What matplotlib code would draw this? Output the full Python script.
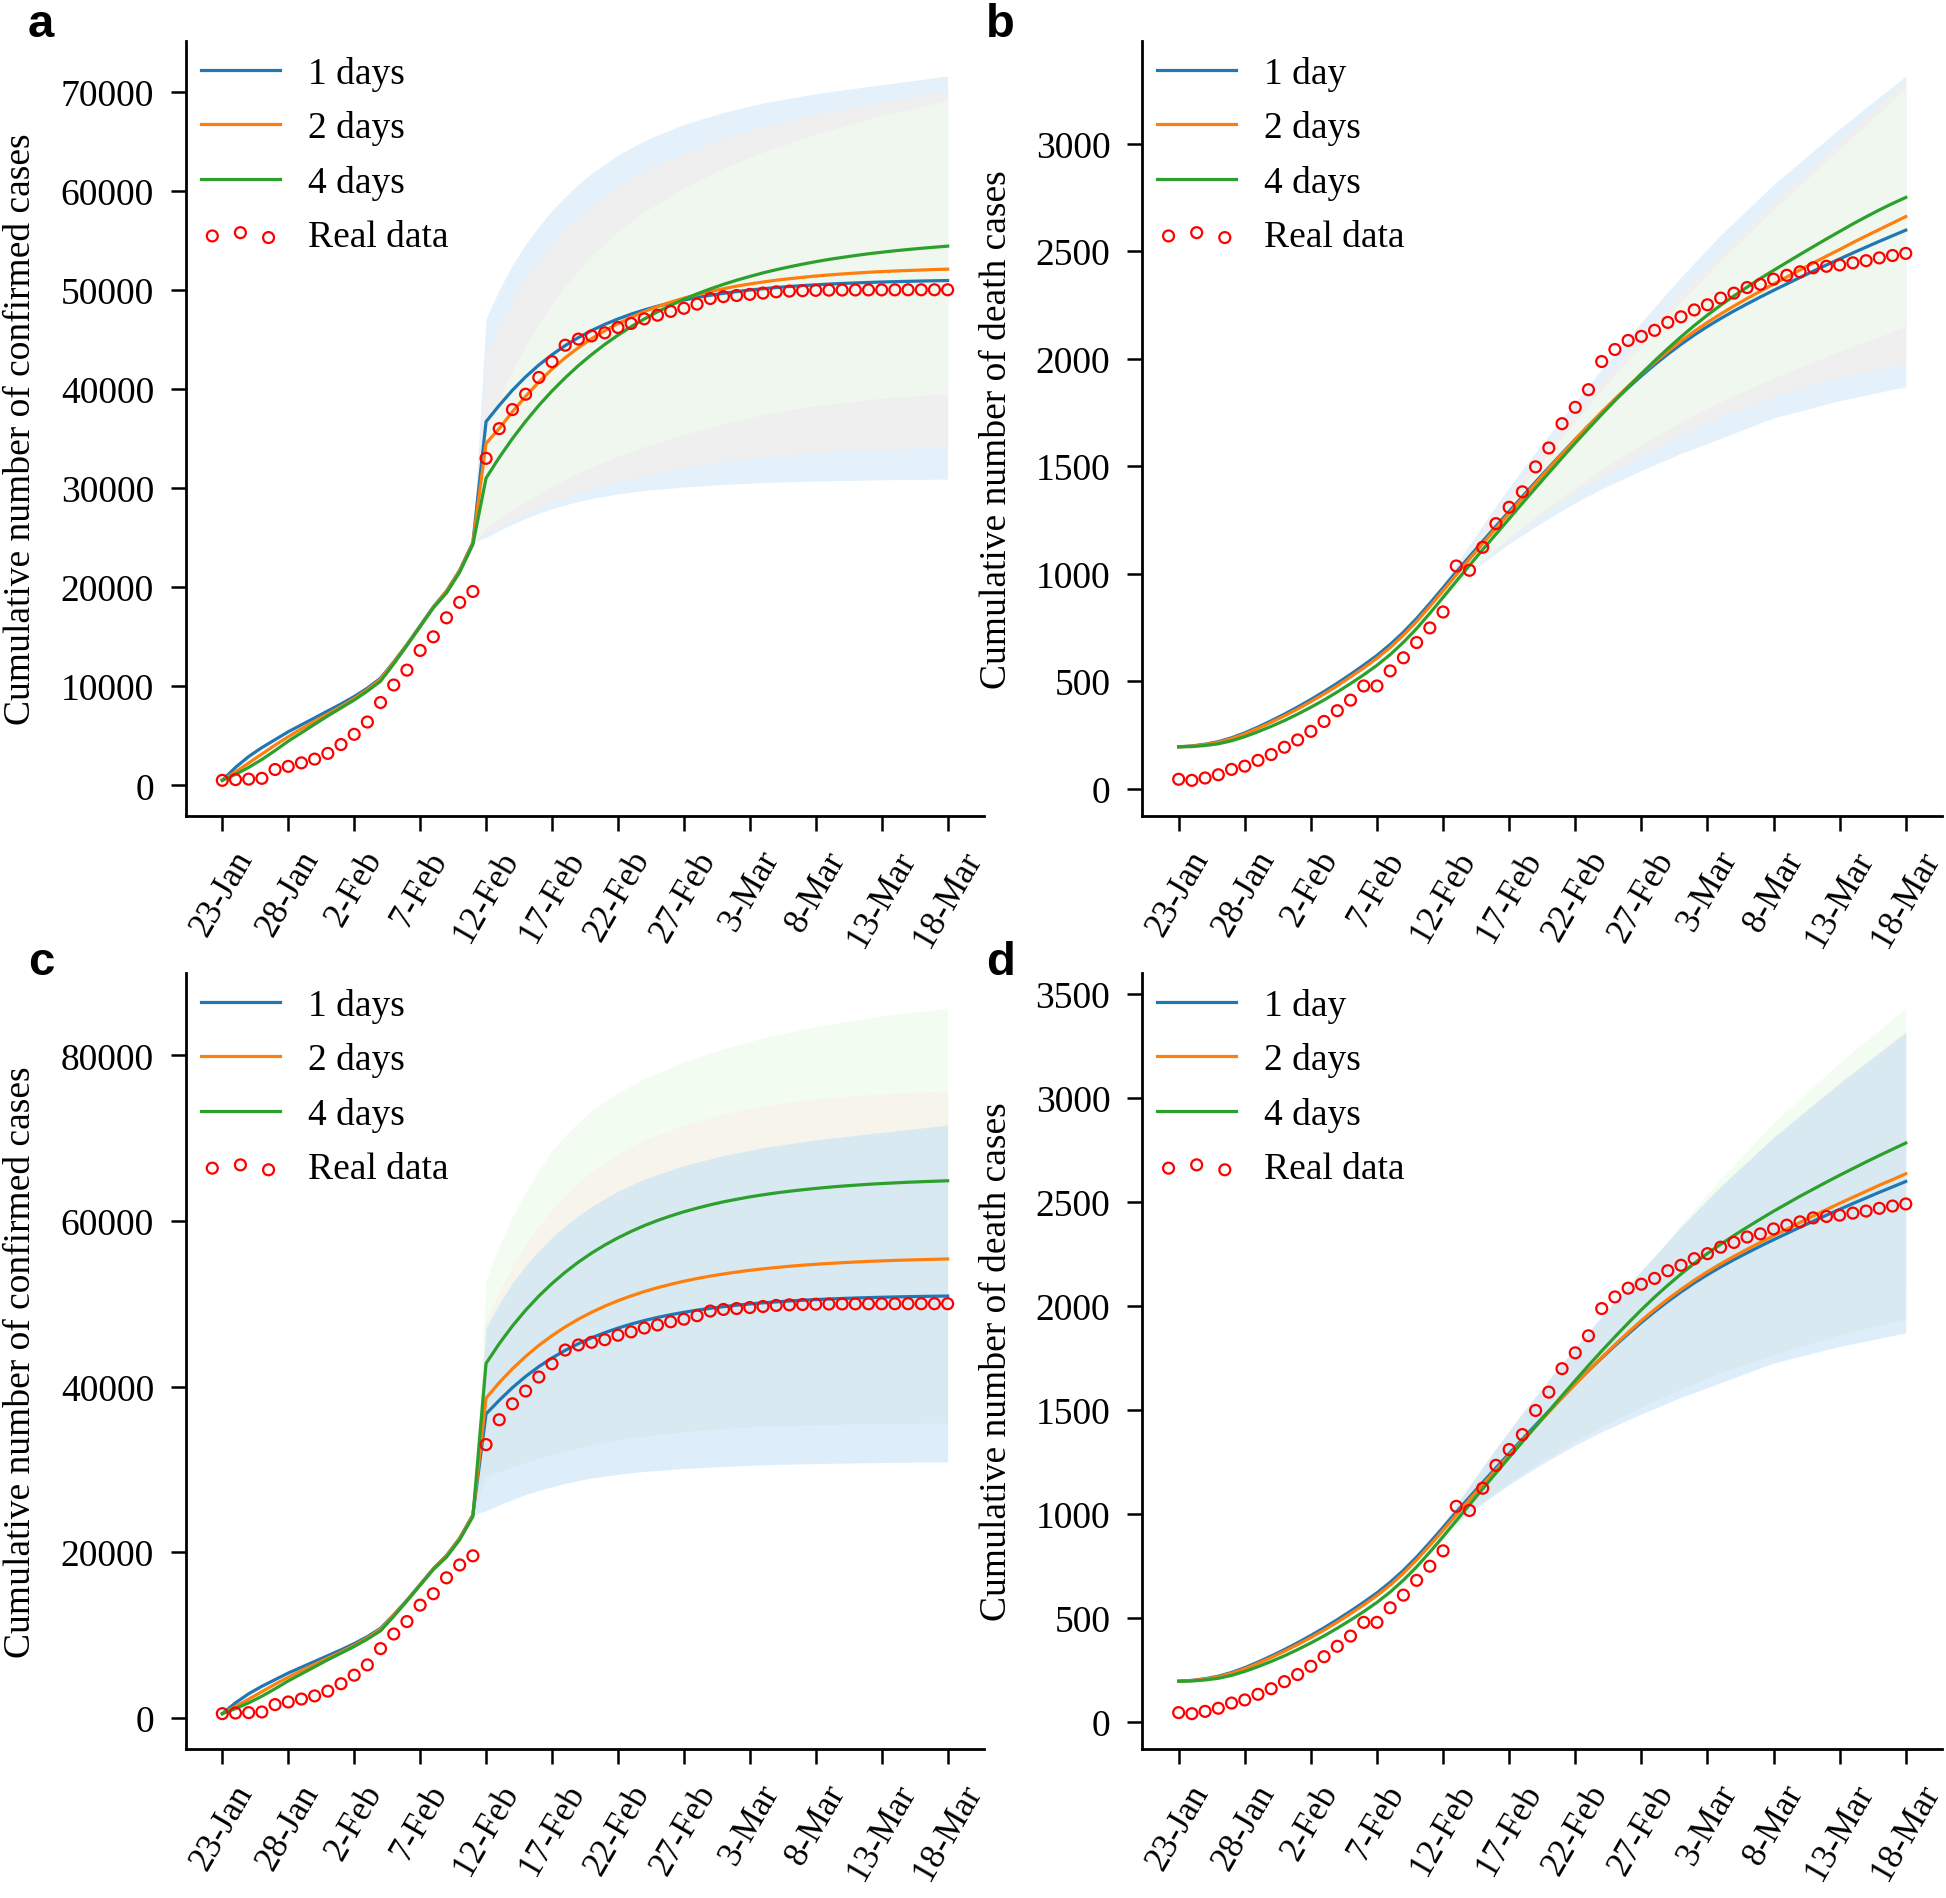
import matplotlib.pyplot as plt
import numpy as np

plt.rcParams['font.family'] = ['Liberation Serif', 'DejaVu Serif']

# x axis: one value per day from 23-Jan to 18-Mar, a tick every 5 days
days = np.arange(56)
tick_days = [0, 5, 10, 15, 20, 25, 30, 35, 40, 45, 50, 55]
tick_labels = ['23-Jan', '28-Jan', '2-Feb', '7-Feb', '12-Feb', '17-Feb',
               '22-Feb', '27-Feb', '3-Mar', '8-Mar', '13-Mar', '18-Mar']
band_days = [19, 20, 21, 22, 23, 24, 25, 26, 27, 28, 30, 32, 35, 38, 41, 45, 50, 55]

# observed data
real_confirmed = [495, 572, 618, 698, 1590, 1905, 2261, 2639, 3215, 4109, 5142, 6384, 8351, 10117,
                  11618, 13603, 14982, 16902, 18454, 19558, 32994, 35991, 37914, 39462, 41152, 42752,
                  44412, 45027, 45346, 45660, 46201, 46607, 47071, 47441, 47824, 48137, 48557, 49122,
                  49315, 49426, 49540, 49671, 49797, 49871, 49912, 49948, 49965, 49978, 49986, 49991,
                  49995, 49999, 50003, 50004, 50005, 50005]
real_deaths = [44, 39, 50, 65, 90, 105, 132, 159, 193, 227, 267, 313, 363, 412, 478, 478, 548, 609,
               680, 748, 822, 1036, 1016, 1123, 1233, 1309, 1381, 1497, 1585, 1698, 1774, 1856, 1987,
               2043, 2085, 2104, 2132, 2169, 2195, 2227, 2251, 2282, 2305, 2331, 2346, 2370, 2388,
               2404, 2423, 2430, 2436, 2446, 2456, 2469, 2480, 2490]

# confirmed cases, model curves
conf_1day = [500, 1800, 2900, 3800, 4600, 5400, 6100, 6800, 7500, 8200, 8950, 9800, 10800, 12450,
             14200, 16100, 18000, 19600, 21700, 24500, 36700, 38340, 39870, 41220, 42410, 43450,
             44370, 45180, 45890, 46510, 47060, 47550, 47970, 48350, 48680, 48970, 49230, 49450,
             49650, 49820, 49980, 50110, 50230, 50335, 50427, 50508, 50579, 50641, 50696, 50745,
             50787, 50825, 50858, 50887, 50912, 50935]
conf_2day_a = [500, 1350, 2250, 3150, 4050, 4900, 5700, 6450, 7200, 7950, 8750, 9650, 10700, 12400,
               14150, 16050, 17950, 19550, 21650, 24450, 34500, 36000, 37700, 39250, 40700, 42000,
               43140, 44160, 45070, 45870, 46590, 47230, 47800, 48310, 48760, 49160, 49510, 49830,
               50110, 50370, 50590, 50790, 50970, 51120, 51260, 51390, 51500, 51600, 51690, 51770,
               51840, 51900, 51950, 52000, 52050, 52085]
conf_4day_a = [500, 1100, 1800, 2600, 3500, 4450, 5300, 6150, 7000, 7800, 8600, 9500, 10500, 12250,
               14100, 16000, 17900, 19400, 21500, 24300, 31000, 33080, 34990, 36730, 38330, 39790,
               41120, 42350, 43460, 44490, 45420, 46280, 47060, 47780, 48440, 49040, 49590, 50090,
               50550, 50970, 51350, 51710, 52030, 52320, 52590, 52840, 53070, 53270, 53460, 53640,
               53790, 53940, 54070, 54190, 54300, 54410]
conf_2day_c = [500, 1350, 2250, 3150, 4050, 4900, 5700, 6450, 7200, 7950, 8750, 9650, 10700, 12400,
               14150, 16050, 17950, 19550, 21650, 24450, 38600, 40480, 42150, 43640, 44970, 46150,
               47200, 48140, 48970, 49710, 50370, 50950, 51480, 51940, 52350, 52720, 53050, 53340,
               53600, 53830, 54040, 54220, 54380, 54530, 54660, 54770, 54870, 54960, 55045, 55120,
               55180, 55240, 55290, 55330, 55370, 55410]
conf_4day_c = [500, 1100, 1800, 2600, 3500, 4450, 5300, 6150, 7000, 7800, 8600, 9500, 10500, 12250,
               14100, 16000, 17900, 19400, 21500, 24300, 42800, 45180, 47320, 49220, 50930, 52450,
               53810, 55030, 56120, 57090, 57960, 58740, 59440, 60060, 60610, 61110, 61550, 61950,
               62310, 62620, 62910, 63160, 63390, 63590, 63770, 63930, 64080, 64210, 64320, 64430,
               64520, 64600, 64680, 64740, 64800, 64855]

# confirmed cases, uncertainty bands (on band_days)
conf_1day_hi = [24500, 47100, 50000, 52500, 54600, 56400, 58000, 59400, 60650, 61750, 63600, 65050,
                66700, 67900, 68850, 69800, 70700, 71580]
conf_1day_lo = [24500, 25000, 25700, 26350, 26950, 27450, 27900, 28300, 28650, 28950, 29400, 29750,
                30100, 30350, 30550, 30700, 30830, 30900]
conf_2day_a_hi = [24450, 43500, 46300, 48900, 51100, 53000, 54700, 56150, 57400, 58500, 60400, 61950,
                  63800, 65300, 66500, 67750, 69000, 70130]
conf_2day_a_lo = [24450, 25400, 26100, 26800, 27450, 28050, 28600, 29100, 29550, 29950, 30700, 31300,
                  32050, 32650, 33150, 33600, 33950, 34150]
conf_4day_a_hi = [24300, 36000, 39100, 41900, 44400, 46600, 48600, 50400, 52000, 53450, 55900, 57900,
                  60300, 62300, 63900, 65700, 67600, 69120]
conf_4day_a_lo = [24300, 26000, 26900, 27800, 28600, 29400, 30150, 30850, 31500, 32100, 33200, 34150,
                  35400, 36500, 37400, 38300, 39050, 39530]
conf_2day_c_hi = [24450, 48100, 51500, 54500, 57100, 59400, 61400, 63100, 64600, 65900, 68100, 69800,
                  71600, 72900, 73900, 74750, 75350, 75700]
conf_2day_c_lo = [24450, 29100, 29700, 30300, 30850, 31350, 31800, 32200, 32600, 32950, 33550, 34000,
                  34550, 34950, 35200, 35400, 35550, 35600]
conf_4day_c_hi = [24300, 52800, 57000, 60500, 63500, 66100, 68500, 70300, 71900, 73300, 75500, 77200,
                  79200, 80800, 82100, 83500, 84750, 85690]
conf_4day_c_lo = [24300, 32800, 34000, 35100, 36100, 37000, 37800, 38550, 39200, 39800, 40800, 41550,
                  42450, 43100, 43550, 43950, 44200, 44400]

# death cases, model curves
death_1day = [195, 199, 207, 219, 237, 260, 287, 316, 347, 380, 415, 452, 491, 532, 575, 620, 671,
              728, 792, 862, 935, 1008, 1080, 1151, 1221, 1290, 1359, 1427, 1494, 1560, 1625, 1688,
              1749, 1808, 1865, 1920, 1972, 2021, 2067, 2110, 2150, 2187, 2222, 2255, 2287, 2318,
              2348, 2378, 2407, 2436, 2464, 2492, 2519, 2546, 2572, 2598]
death_2day_b = [195, 198, 205, 216, 233, 255, 281, 309, 339, 371, 405, 441, 479, 520, 562, 607, 657,
                714, 778, 848, 921, 995, 1068, 1140, 1211, 1281, 1351, 1420, 1489, 1557, 1624, 1689,
                1752, 1813, 1872, 1929, 1983, 2034, 2082, 2127, 2169, 2208, 2245, 2280, 2314, 2347,
                2380, 2413, 2445, 2477, 2508, 2540, 2571, 2601, 2631, 2661]
death_4day_b = [195, 196, 201, 209, 223, 242, 265, 290, 317, 347, 379, 413, 450, 489, 530, 574, 624,
                681, 745, 816, 890, 965, 1039, 1112, 1184, 1256, 1328, 1399, 1469, 1539, 1608, 1675,
                1741, 1805, 1868, 1930, 1990, 2047, 2102, 2154, 2203, 2249, 2292, 2333, 2373, 2411,
                2448, 2485, 2521, 2557, 2592, 2627, 2660, 2692, 2722, 2750]
death_2day_d = [195, 198, 205, 216, 233, 255, 281, 309, 339, 371, 405, 441, 479, 520, 562, 607, 657,
                714, 778, 848, 921, 995, 1068, 1140, 1211, 1281, 1351, 1420, 1489, 1557, 1624, 1689,
                1752, 1813, 1872, 1929, 1982, 2032, 2079, 2123, 2164, 2202, 2238, 2272, 2305, 2337,
                2369, 2401, 2432, 2463, 2493, 2522, 2551, 2580, 2607, 2635]
death_4day_d = [195, 196, 201, 209, 223, 242, 265, 290, 317, 347, 379, 413, 450, 489, 530, 574, 624,
                681, 745, 816, 890, 967, 1044, 1120, 1196, 1271, 1346, 1420, 1494, 1568, 1641, 1713,
                1783, 1851, 1917, 1981, 2042, 2099, 2153, 2204, 2252, 2296, 2338, 2378, 2417, 2455,
                2491, 2527, 2561, 2595, 2628, 2660, 2692, 2723, 2753, 2783]

# death cases, uncertainty bands (on band_days)
death_1day_hi = [862, 952, 1045, 1135, 1225, 1315, 1400, 1485, 1565, 1645, 1800, 1950, 2170, 2380,
                 2575, 2810, 3070, 3315]
death_1day_lo = [862, 900, 955, 1005, 1050, 1095, 1140, 1180, 1220, 1258, 1330, 1395, 1480, 1560,
                 1630, 1725, 1805, 1870]
death_2day_b_hi = [848, 935, 1025, 1112, 1198, 1283, 1365, 1447, 1525, 1602, 1752, 1897, 2105, 2305,
                   2495, 2730, 3010, 3300]
death_2day_b_lo = [848, 905, 965, 1020, 1070, 1118, 1165, 1210, 1253, 1295, 1375, 1450, 1550, 1645,
                   1730, 1825, 1915, 1980]
death_4day_b_hi = [816, 900, 990, 1075, 1160, 1243, 1325, 1405, 1483, 1560, 1710, 1855, 2065, 2265,
                   2455, 2695, 2975, 3260]
death_4day_b_lo = [816, 880, 945, 1005, 1062, 1115, 1167, 1217, 1265, 1312, 1400, 1485, 1600, 1705,
                   1800, 1910, 2035, 2150]
death_2day_d_hi = [848, 948, 1042, 1132, 1222, 1311, 1396, 1480, 1560, 1640, 1795, 1945, 2165, 2375,
                   2570, 2810, 3075, 3320]
death_2day_d_lo = [848, 902, 957, 1010, 1058, 1104, 1150, 1193, 1234, 1273, 1350, 1420, 1515, 1600,
                   1680, 1765, 1860, 1937]
death_4day_d_hi = [816, 920, 1015, 1105, 1195, 1280, 1365, 1450, 1530, 1610, 1765, 1915, 2150, 2390,
                   2610, 2880, 3170, 3431]
death_4day_d_lo = [816, 870, 935, 995, 1055, 1110, 1165, 1217, 1267, 1315, 1405, 1490, 1610, 1720,
                   1815, 1925, 2025, 2098]

c_blue, c_orange, c_green = '#1f77b4', '#ff7f0e', '#2ca02c'
fs = 27


def style_axis(ax, yticks, ylabel, label_x):
    ax.spines['top'].set_visible(False)
    ax.spines['right'].set_visible(False)
    for side in ['left', 'bottom']:
        ax.spines[side].set_linewidth(2.0)
    ax.set_xticks(tick_days)
    ax.set_xticklabels(tick_labels, rotation=60, fontsize=25)
    ax.set_yticks(yticks)
    ax.tick_params(axis='both', direction='out', length=11, width=1.8)
    ax.tick_params(axis='y', labelsize=fs, pad=12)
    ax.tick_params(axis='x', pad=10)
    ax.set_ylabel(ylabel, fontsize=fs)
    ax.yaxis.set_label_coords(label_x, 0.5)


def draw_lines(ax, curves, real, labels):
    for y, col, lab in zip(curves, [c_blue, c_orange, c_green], labels[:3]):
        ax.plot(days, y, color=col, lw=2.3, label=lab, zorder=3)
    ax.scatter(days, real, s=62, facecolors='none', edgecolors='red', linewidths=1.6,
               label=labels[3], zorder=4)
    ax.legend(loc='upper left', bbox_to_anchor=(0, 1), frameon=False, fontsize=fs,
              borderaxespad=0.0, borderpad=0.4, handlelength=2.1, handletextpad=0.75,
              labelspacing=0.52, scatterpoints=3)


fig = plt.figure(figsize=(19.46, 18.99), dpi=100)
ax_a = fig.add_axes([0.0956, 0.570, 0.410, 0.408])
ax_b = fig.add_axes([0.587, 0.570, 0.411, 0.408])
ax_c = fig.add_axes([0.0956, 0.0785, 0.410, 0.4086])
ax_d = fig.add_axes([0.587, 0.0785, 0.411, 0.4086])

labels_conf = ['1 days', '2 days', '4 days', 'Real data']
labels_death = ['1 day', '2 days', '4 days', 'Real data']

# a: bands drawn blue -> orange -> green (pale, opaque)
ax_a.fill_between(band_days, conf_1day_lo, conf_1day_hi, color='#e4f1fb', lw=0)
ax_a.fill_between(band_days, conf_2day_a_lo, conf_2day_a_hi, color='#efefef', lw=0)
ax_a.fill_between(band_days, conf_4day_a_lo, conf_4day_a_hi, color='#f0f7ee', lw=0)
draw_lines(ax_a, [conf_1day, conf_2day_a, conf_4day_a], real_confirmed, labels_conf)
style_axis(ax_a, range(0, 70001, 10000), 'Cumulative number of confirmed cases', -0.186)

# b
ax_b.fill_between(band_days, death_1day_lo, death_1day_hi, color='#e4f1fb', lw=0)
ax_b.fill_between(band_days, death_2day_b_lo, death_2day_b_hi, color='#efefef', lw=0)
ax_b.fill_between(band_days, death_4day_b_lo, death_4day_b_hi, color='#f0f7ee', lw=0)
draw_lines(ax_b, [death_1day, death_2day_b, death_4day_b], real_deaths, labels_death)
style_axis(ax_b, range(0, 3001, 500), 'Cumulative number of death cases', -0.160)

# c: bands drawn green -> orange -> blue (blue translucent on top)
ax_c.fill_between(band_days, conf_4day_c_lo, conf_4day_c_hi, color='#f3fcf1', lw=0)
ax_c.fill_between(band_days, conf_2day_c_lo, conf_2day_c_hi, color='#f6f4eb', lw=0)
ax_c.fill_between(band_days, conf_1day_lo, conf_1day_hi, color='#bddff7', alpha=0.5, lw=0)
draw_lines(ax_c, [conf_1day, conf_2day_c, conf_4day_c], real_confirmed, labels_conf)
style_axis(ax_c, range(0, 80001, 20000), 'Cumulative number of confirmed cases', -0.186)

# d
ax_d.fill_between(band_days, death_4day_d_lo, death_4day_d_hi, color='#f3fcf1', lw=0)
ax_d.fill_between(band_days, death_2day_d_lo, death_2day_d_hi, color='#f6f4eb', lw=0)
ax_d.fill_between(band_days, death_1day_lo, death_1day_hi, color='#bddff7', alpha=0.5, lw=0)
draw_lines(ax_d, [death_1day, death_2day_d, death_4day_d], real_deaths, labels_death)
style_axis(ax_d, range(0, 3501, 500), 'Cumulative number of death cases', -0.160)

# panel letters
for x, y, t in [(0.021, 0.987, 'a'), (0.514, 0.987, 'b'), (0.021, 0.493, 'c'), (0.514, 0.493, 'd')]:
    fig.text(x, y, t, fontsize=34, fontweight='bold', family='Liberation Sans',
             ha='center', va='center')

fig.savefig('out.png', dpi=100)
